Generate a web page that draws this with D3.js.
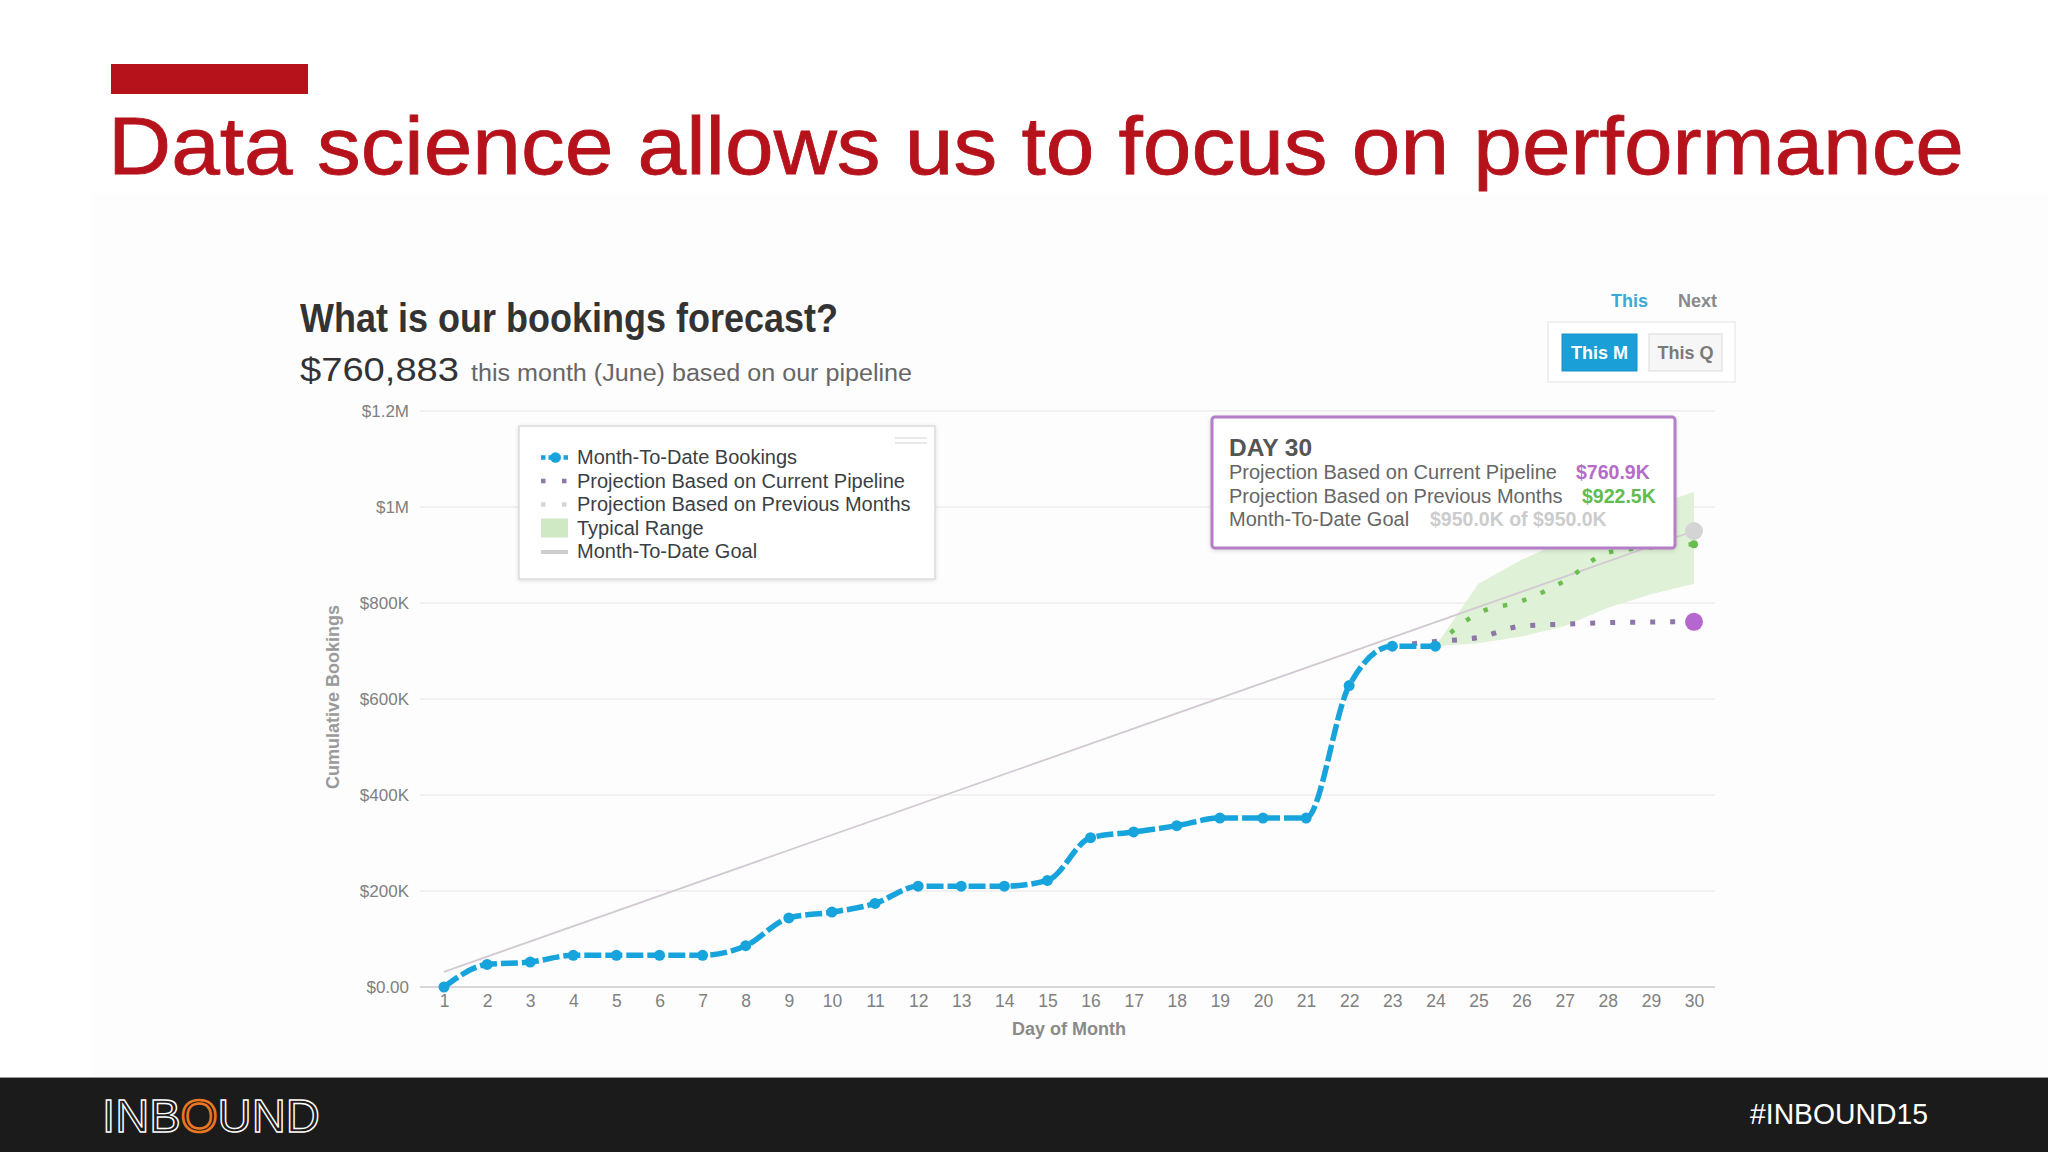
<!DOCTYPE html>
<html><head><meta charset="utf-8">
<script src="https://cdn.jsdelivr.net/npm/d3@7"></script>
<style>
body{margin:0;background:#fff;}
svg{display:block;font-family:"Liberation Sans",Arial,sans-serif;}
</style>
</head><body>
<svg id="c" width="2048" height="1152"></svg>
<script>
// ---------- data ----------
const days = [1,2,3,4,5,6,7,8,9,10,11,12,13,14,15,16,17,18,19,20,21,22,23,24,25,26,27,28,29,30];
const bookingDays = [1,2,3,4,5,6,7,8,9,10,11,12,13,14,15,16,17,18,19,20,21,22,23,24];
const bookings = [0,47000,52000,66000,66000,66000,66000,86000,144000,156000,174000,210000,210000,210000,222000,311000,323000,336000,352000,352000,352000,628000,710000,710000];
const pipelineDays = [23,24,25,26,27,28,29,30];
const pipeline = [710000,720000,728000,752000,756000,759000,760500,760883];
const previousDays = [24,25,26,27,28,29,30];
const previous = [710000,779000,804000,846000,905000,916000,922500];
const rangeDays = [24,25,26,27,28,29,30];
const rangeLow = [710000,716000,730000,752000,790000,818000,840000];
const rangeHigh = [710000,840000,890000,930000,965000,1000000,1032000];
const goalDays = [1,30];
const goal = [31667,950000];
const yTicks = [0,200000,400000,600000,800000,1000000,1200000];
const yTickLabels = ["$0.00","$200K","$400K","$600K","$800K","$1M","$1.2M"];
const legendLabels = ["Month-To-Date Bookings","Projection Based on Current Pipeline","Projection Based on Previous Months","Typical Range","Month-To-Date Goal"];
const tooltipLabels = ["Projection Based on Current Pipeline","Projection Based on Previous Months","Month-To-Date Goal"];
const tooltipValues = ["$760.9K","$922.5K","$950.0K of $950.0K"];

// ---------- colours ----------
const BLUE="#17a3dc", PURPLE="#b468cf", PURPLE_DOT="#8f76a8", GREEN="#6bbd50", RANGE="#dcefd2", GOAL="#d3c9d3";

const svg = d3.select("#c");

// screenshot panel background
svg.append("rect").attr("x",92).attr("y",193).attr("width",1956).attr("height",885).attr("fill","#fdfdfd");

// slide title
svg.append("rect").attr("x",111).attr("y",64).attr("width",197).attr("height",30).attr("fill","#b5121b");
svg.append("text").attr("x",108).attr("y",174).attr("font-size",82).attr("fill","#b5121b")
  .attr("stroke","#b5121b").attr("stroke-width",0.8)
  .attr("textLength",1856).attr("lengthAdjust","spacingAndGlyphs")
  .text("Data science allows us to focus on performance");

// chart heading
svg.append("text").attr("x",300).attr("y",332).attr("font-size",40).attr("font-weight","bold").attr("fill","#333")
  .attr("textLength",538).attr("lengthAdjust","spacingAndGlyphs").text("What is our bookings forecast?");
svg.append("text").attr("x",300).attr("y",381).attr("font-size",34).attr("fill","#333")
  .attr("textLength",159).attr("lengthAdjust","spacingAndGlyphs").text("$760,883");
svg.append("text").attr("x",471).attr("y",381).attr("font-size",23).attr("fill","#666")
  .attr("textLength",441).attr("lengthAdjust","spacingAndGlyphs").text("this month (June) based on our pipeline");

// buttons
svg.append("text").attr("x",1611).attr("y",307).attr("font-size",18).attr("font-weight","bold").attr("fill","#3aa8d8").text("This");
svg.append("text").attr("x",1678).attr("y",307).attr("font-size",18).attr("font-weight","bold").attr("fill","#8a8a8a").text("Next");
svg.append("rect").attr("x",1548).attr("y",322).attr("width",187).attr("height",60).attr("fill","#fff").attr("stroke","#ececec").attr("stroke-width",1.5);
svg.append("rect").attr("x",1562).attr("y",334).attr("width",75).attr("height",37).attr("fill","#1a9fd6").attr("stroke","#1793c8");
svg.append("text").attr("x",1599.5).attr("y",359).attr("text-anchor","middle").attr("font-size",18).attr("font-weight","bold").attr("fill","#fff").text("This M");
svg.append("rect").attr("x",1649).attr("y",334).attr("width",73).attr("height",37).attr("fill","#f6f6f6").attr("stroke","#dcdcdc");
svg.append("text").attr("x",1685.5).attr("y",359).attr("text-anchor","middle").attr("font-size",18).attr("font-weight","bold").attr("fill","#7a7a7a").text("This Q");

// ---------- scales ----------
const x = d3.scaleLinear().domain([1,30]).range([444,1694]);
const y = d3.scaleLinear().domain([0,1200000]).range([987,411]);
const gridX1 = 420, gridX2 = 1715;

// gridlines
svg.append("g").selectAll("line").data(yTicks.slice(1)).join("line")
  .attr("x1",gridX1).attr("x2",gridX2).attr("y1",d=>y(d)).attr("y2",d=>y(d))
  .attr("stroke","#ececec").attr("stroke-width",1.5);

// y axis labels
const yAxis = svg.append("g").attr("transform",`translate(${gridX1},0)`)
  .call(d3.axisLeft(y).tickValues(yTicks).tickFormat((d,i)=>yTickLabels[i]).tickSize(0).tickPadding(11));
yAxis.select(".domain").remove();
yAxis.selectAll("text").attr("font-size",17).attr("fill","#808080").attr("font-family","Liberation Sans, Arial, sans-serif");

// x axis
svg.append("line").attr("x1",gridX1).attr("x2",gridX2).attr("y1",y(0)).attr("y2",y(0)).attr("stroke","#d6d6d6").attr("stroke-width",2);
const xAxis = svg.append("g").attr("transform",`translate(0,${y(0)})`)
  .call(d3.axisBottom(x).tickValues(days).tickFormat(d=>d).tickSize(0).tickPadding(8));
xAxis.select(".domain").remove();
xAxis.selectAll("text").attr("font-size",17.5).attr("fill","#808080").attr("font-family","Liberation Sans, Arial, sans-serif");

// axis titles
svg.append("text").attr("x",1069).attr("y",1035).attr("text-anchor","middle").attr("font-size",18).attr("font-weight","bold").attr("fill","#8a8a8a").text("Day of Month");
svg.append("text").attr("transform","translate(339,697) rotate(-90)").attr("text-anchor","middle").attr("font-size",18).attr("font-weight","bold").attr("fill","#9a9a9a").text("Cumulative Bookings");

// ---------- series ----------
// typical range
const area = d3.area().x((d,i)=>x(rangeDays[i])).y0((d,i)=>y(rangeLow[i])).y1((d,i)=>y(rangeHigh[i]));
svg.append("path").attr("d",area(rangeDays)).attr("fill",RANGE).attr("opacity",0.9);

// goal line
svg.append("path").attr("d",d3.line().x((d,i)=>x(goalDays[i])).y((d,i)=>y(goal[i]))(goalDays))
  .attr("fill","none").attr("stroke",GOAL).attr("stroke-width",1.8);

// previous months projection
svg.append("path").attr("d",d3.line().curve(d3.curveMonotoneX).x((d,i)=>x(previousDays[i])).y((d,i)=>y(previous[i]))(previousDays))
  .attr("fill","none").attr("stroke",GREEN).attr("stroke-width",4.5).attr("stroke-dasharray","4.5,15.5");

// pipeline projection
svg.append("path").attr("d",d3.line().curve(d3.curveMonotoneX).x((d,i)=>x(pipelineDays[i])).y((d,i)=>y(pipeline[i]))(pipelineDays))
  .attr("fill","none").attr("stroke",PURPLE_DOT).attr("stroke-width",5).attr("stroke-dasharray","5,15");

// bookings
svg.append("path").attr("d",d3.line().curve(d3.curveMonotoneX).x((d,i)=>x(bookingDays[i])).y((d,i)=>y(bookings[i]))(bookingDays))
  .attr("fill","none").attr("stroke",BLUE).attr("stroke-width",5.5).attr("stroke-dasharray","17,4");
svg.append("g").selectAll("circle").data(bookingDays).join("circle")
  .attr("cx",(d)=>x(d)).attr("cy",(d,i)=>y(bookings[i])).attr("r",5.5).attr("fill",BLUE);

// end markers at day 30
svg.append("circle").attr("cx",x(30)).attr("cy",y(goal[1])).attr("r",9).attr("fill","#d4d4d4");
svg.append("circle").attr("cx",x(30)).attr("cy",y(previous[previous.length-1])).attr("r",4).attr("fill",GREEN);
svg.append("circle").attr("cx",x(30)).attr("cy",y(pipeline[pipeline.length-1])).attr("r",9).attr("fill",PURPLE);

// ---------- legend ----------
const lg = svg.append("g");
lg.append("rect").attr("x",519).attr("y",426).attr("width",416).attr("height",153).attr("fill","#fff")
  .attr("stroke","#dcdcdc").attr("stroke-width",1.5).style("filter","drop-shadow(0px 1px 2px rgba(0,0,0,0.12))");
lg.append("line").attr("x1",895).attr("x2",927).attr("y1",438).attr("y2",438).attr("stroke","#e2e2e2").attr("stroke-width",1.5);
lg.append("line").attr("x1",895).attr("x2",927).attr("y1",443).attr("y2",443).attr("stroke","#e2e2e2").attr("stroke-width",1.5);
const lgBase = 464, lgStep = 23.5, sx1 = 541, sx2 = 568;
lg.selectAll("text").data(legendLabels).join("text")
  .attr("x",577).attr("y",(d,i)=>lgBase+i*lgStep).attr("font-size",20).attr("fill","#3a3f45").text(d=>d);
// symbols
lg.append("line").attr("x1",sx1).attr("x2",sx2).attr("y1",lgBase-6.5).attr("y2",lgBase-6.5).attr("stroke",BLUE).attr("stroke-width",4.5).attr("stroke-dasharray","4.5,3");
lg.append("circle").attr("cx",(sx1+sx2)/2+1).attr("cy",lgBase-6.5).attr("r",5.3).attr("fill",BLUE);
lg.append("line").attr("x1",sx1).attr("x2",sx2).attr("y1",lgBase+lgStep-6.5).attr("y2",lgBase+lgStep-6.5).attr("stroke",PURPLE_DOT).attr("stroke-width",4.5).attr("stroke-dasharray","4.5,16.5");
lg.append("line").attr("x1",sx1).attr("x2",sx2).attr("y1",lgBase+2*lgStep-6.5).attr("y2",lgBase+2*lgStep-6.5).attr("stroke","#d6d6d6").attr("stroke-width",4.5).attr("stroke-dasharray","4.5,16.5");
lg.append("rect").attr("x",sx1).attr("y",lgBase+3*lgStep-16).attr("width",sx2-sx1).attr("height",19).attr("fill","#cfe9c4");
lg.append("line").attr("x1",sx1).attr("x2",sx2).attr("y1",lgBase+4*lgStep-6).attr("y2",lgBase+4*lgStep-6).attr("stroke","#cfcfcf").attr("stroke-width",4);

// ---------- tooltip ----------
const tt = svg.append("g");
tt.append("rect").attr("x",1212).attr("y",417).attr("width",463).attr("height",131).attr("rx",3)
  .attr("fill","#fff").attr("stroke","#b47ec9").attr("stroke-width",3).style("filter","drop-shadow(0px 1px 2px rgba(0,0,0,0.15))");
tt.append("text").attr("x",1229).attr("y",456).attr("font-size",24.5).attr("font-weight","bold").attr("fill","#555").text("DAY 30");
const ttBase = [479,502.5,526];
const ttValX = [1576,1582,1430];
const ttCol = ["#b46cc8","#62bb4f","#cccccc"];
tt.selectAll("text.l").data(tooltipLabels).join("text").attr("class","l")
  .attr("x",1229).attr("y",(d,i)=>ttBase[i]).attr("font-size",20).attr("fill","#666").text(d=>d);
tt.selectAll("text.v").data(tooltipValues).join("text").attr("class","v")
  .attr("x",(d,i)=>ttValX[i]).attr("y",(d,i)=>ttBase[i]).attr("font-size",19.5).attr("font-weight","bold")
  .attr("fill",(d,i)=>ttCol[i]).text(d=>d);

// ---------- footer ----------
svg.append("rect").attr("x",0).attr("y",1077).attr("width",2048).attr("height",75).attr("fill","#1c1b1c");
svg.append("line").attr("x1",0).attr("x2",2048).attr("y1",1077.5).attr("y2",1077.5).attr("stroke","#9a9a9a").attr("stroke-width",1);
const logo = svg.append("text").attr("x",102).attr("y",1132).attr("font-size",46).attr("fill","#1c1b1c")
  .attr("stroke","#fff").attr("stroke-width",1.4).attr("textLength",218).attr("lengthAdjust","spacingAndGlyphs");
logo.append("tspan").text("INB");
logo.append("tspan").attr("stroke","#e87722").attr("stroke-width",2.5).text("O");
logo.append("tspan").text("UND");
svg.append("text").attr("x",1750).attr("y",1124).attr("font-size",30).attr("fill","#fff")
  .attr("textLength",178).attr("lengthAdjust","spacingAndGlyphs").text("#INBOUND15");
</script>
</body></html>
